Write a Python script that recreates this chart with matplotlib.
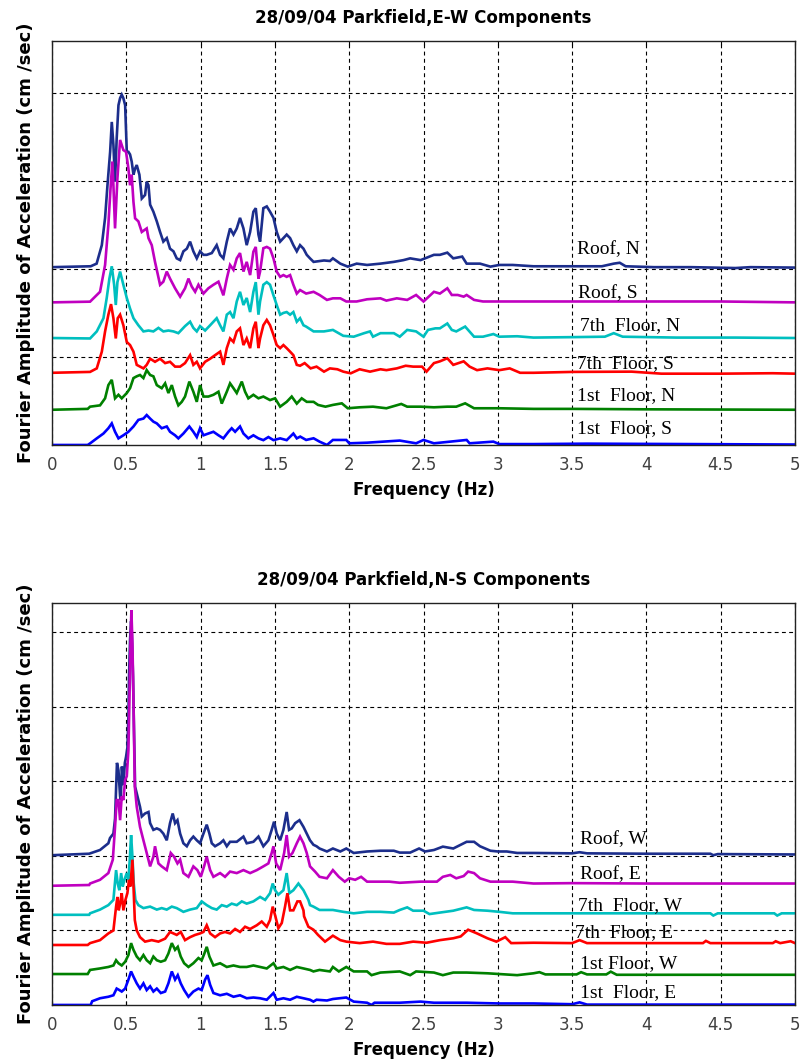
import matplotlib.pyplot as plt

# ---- E-W components (Fourier amplitude, stacked records) ----
ew_roof_n_f = [0, 0.26, 0.30, 0.335, 0.357, 0.373, 0.391, 0.402, 0.413, 0.424, 0.435, 0.447, 0.458, 0.469,
               0.480, 0.492, 0.503, 0.514, 0.525, 0.536, 0.548, 0.559, 0.570, 0.588, 0.604, 0.626, 0.637,
               0.649, 0.660, 0.682, 0.705, 0.727, 0.749, 0.772, 0.794, 0.817, 0.839, 0.862, 0.884, 0.907,
               0.929, 0.951, 0.974, 0.996, 1.019, 1.041, 1.075, 1.108, 1.131, 1.153, 1.176, 1.198, 1.221,
               1.243, 1.265, 1.288, 1.310, 1.333, 1.355, 1.371, 1.389, 1.400, 1.422, 1.445, 1.467, 1.490,
               1.512, 1.535, 1.557, 1.579, 1.602, 1.624, 1.647, 1.669, 1.692, 1.714, 1.736, 1.76, 1.83,
               1.87, 1.89, 1.94, 1.99, 2.05, 2.12, 2.21, 2.30, 2.365, 2.41, 2.48, 2.57, 2.61, 2.66, 2.70,
               2.76, 2.79, 2.88, 2.95, 3.01, 3.10, 3.24, 3.5, 3.7, 3.78, 3.82, 3.86, 4.05, 4.3, 4.6, 4.7, 5.0]
ew_roof_n_a = [0.2, 0.3, 0.6, 2.7, 5.8, 9.5, 13.3, 16.7, 14.1, 9.9, 14.8, 18.6, 19.4, 19.8,
               19.4, 18.6, 13.3, 13.3, 13.0, 12.2, 10.7, 11.4, 11.8, 10.7, 8.0, 8.4, 9.9,
               9.5, 7.3, 6.5, 5.4, 4.2, 3.1, 3.5, 2.3, 2.0, 1.2, 1.0, 2.0, 2.3,
               3.1, 2.0, 1.2, 2.0, 1.6, 1.6, 1.8, 2.7, 1.6, 1.2, 3.1, 4.6, 3.9,
               4.6, 5.8, 4.6, 2.7, 4.2, 6.5, 6.9, 3.9, 3.1, 6.9, 7.1, 6.5, 5.8,
               4.2, 3.1, 3.5, 3.9, 3.5, 2.7, 2.0, 2.7, 2.3, 1.6, 1.2, 0.8, 0.96,
               0.9, 1.2, 0.6, 0.26, 0.6, 0.45, 0.6, 0.8, 1.0, 1.2, 1.0, 1.6, 1.6, 1.85, 1.2,
               1.4, 0.6, 0.6, 0.26, 0.45, 0.45, 0.3, 0.3, 0.3, 0.6, 0.7, 0.3, 0.2, 0.2, 0.1, 0.2, 0.15]

ew_roof_s_f = [0, 0.256, 0.323, 0.357, 0.379, 0.395, 0.406, 0.413, 0.424, 0.440, 0.458, 0.480, 0.498,
               0.514, 0.525, 0.536, 0.548, 0.559, 0.581, 0.604, 0.637, 0.649, 0.671, 0.693, 0.727, 0.749,
               0.772, 0.794, 0.828, 0.862, 0.895, 0.918, 0.940, 0.963, 0.985, 1.019, 1.052, 1.086, 1.120,
               1.153, 1.176, 1.198, 1.221, 1.243, 1.265, 1.288, 1.310, 1.333, 1.355, 1.371, 1.389, 1.400,
               1.422, 1.445, 1.467, 1.490, 1.512, 1.535, 1.557, 1.579, 1.602, 1.624, 1.647, 1.669, 1.71,
               1.76, 1.80, 1.85, 1.89, 1.94, 1.98, 2.05, 2.12, 2.21, 2.25, 2.32, 2.39, 2.45, 2.50, 2.57,
               2.61, 2.66, 2.69, 2.73, 2.77, 2.79, 2.84, 2.90, 3.01, 3.13, 3.24, 3.5, 4.0, 4.5, 5.0]
ew_roof_s_a = [0.2, 0.28, 1.4, 4.45, 9.0, 13.5, 16.2, 13.5, 8.6, 14.3, 18.65, 17.5, 17.3,
               15.4, 13.5, 14.7, 11.6, 9.75, 9.4, 8.2, 8.6, 7.5, 6.7, 4.8, 2.2, 2.55,
               3.7, 2.9, 1.8, 0.85, 1.8, 2.9, 2.0, 1.4, 2.2, 1.2, 1.8, 2.2, 2.55,
               1.0, 2.9, 4.45, 3.9, 5.2, 5.8, 3.7, 4.8, 3.3, 5.96, 6.5, 2.9, 3.7,
               6.35, 6.5, 6.3, 5.2, 3.7, 3.1, 3.3, 3.1, 3.3, 2.2, 1.2, 1.6, 1.2,
               1.4, 1.04, 0.48, 0.66, 0.66, 0.3, 0.3, 0.55, 0.66, 0.4, 0.66, 0.48, 1.04, 0.3, 1.4,
               1.2, 1.8, 1.04, 1.04, 0.85, 1.04, 0.48, 0.3, 0.3, 0.3, 0.3, 0.3, 0.3, 0.3, 0.2]

ew_7th_n_f = [0, 0.256, 0.301, 0.346, 0.368, 0.386, 0.402, 0.418, 0.429, 0.440, 0.458, 0.480, 0.503,
              0.525, 0.548, 0.581, 0.615, 0.649, 0.682, 0.716, 0.749, 0.783, 0.817, 0.850, 0.895, 0.929,
              0.951, 0.974, 0.996, 1.030, 1.064, 1.108, 1.131, 1.153, 1.176, 1.198, 1.221, 1.243, 1.265,
              1.288, 1.310, 1.333, 1.355, 1.371, 1.389, 1.400, 1.422, 1.445, 1.467, 1.490, 1.512, 1.535,
              1.557, 1.579, 1.602, 1.624, 1.647, 1.669, 1.692, 1.71, 1.76, 1.83, 1.89, 1.96, 2.03, 2.10,
              2.14, 2.16, 2.21, 2.30, 2.34, 2.39, 2.45, 2.50, 2.53, 2.58, 2.61, 2.66, 2.69, 2.72, 2.78,
              2.84, 2.90, 2.97, 3.01, 3.13, 3.24, 3.5, 3.72, 3.78, 3.84, 4.2, 4.6, 5.0]
ew_7th_n_a = [0.15, 0.1, 0.9, 2.4, 4.7, 6.9, 8.3, 6.2, 3.9, 6.5, 7.7, 6.2, 4.7,
              3.5, 2.4, 1.6, 0.9, 1.0, 0.9, 1.3, 0.9, 1.0, 0.9, 0.7, 1.5, 2.0,
              1.3, 0.9, 1.5, 1.0, 1.6, 2.4, 1.6, 0.9, 2.8, 3.1, 2.4, 4.3, 5.4,
              3.9, 4.7, 3.1, 5.4, 6.5, 2.8, 4.3, 6.2, 6.5, 6.2, 5.0, 3.9, 2.8,
              3.0, 3.1, 2.8, 3.1, 2.0, 2.4, 1.6, 1.45, 0.9, 0.9, 1.07, 0.4, 0.3, 0.7,
              0.9, 0.3, 0.7, 0.7, 0.3, 1.07, 0.9, 0.3, 1.07, 1.25, 1.25, 1.8, 1.07, 0.9, 1.45,
              0.3, 0.3, 0.6, 0.3, 0.35, 0.2, 0.25, 0.3, 0.7, 0.3, 0.2, 0.2, 0.15]

ew_7th_s_f = [0, 0.256, 0.301, 0.335, 0.357, 0.379, 0.397, 0.413, 0.429, 0.442, 0.458, 0.480, 0.503,
              0.525, 0.548, 0.570, 0.615, 0.637, 0.660, 0.693, 0.727, 0.761, 0.794, 0.828, 0.862, 0.895,
              0.929, 0.951, 0.974, 0.996, 1.030, 1.064, 1.097, 1.131, 1.153, 1.176, 1.198, 1.221, 1.243,
              1.265, 1.288, 1.310, 1.333, 1.355, 1.371, 1.389, 1.400, 1.422, 1.445, 1.467, 1.490, 1.512,
              1.535, 1.557, 1.579, 1.602, 1.624, 1.647, 1.669, 1.70, 1.74, 1.78, 1.83, 1.87, 1.92, 1.96,
              2.01, 2.07, 2.14, 2.21, 2.25, 2.32, 2.38, 2.43, 2.49, 2.52, 2.57, 2.61, 2.66, 2.70, 2.77,
              2.81, 2.86, 2.93, 3.01, 3.08, 3.15, 3.24, 3.5, 3.9, 4.1, 4.5, 4.85, 5.0]
ew_7th_s_a = [0.2, 0.3, 0.7, 2.6, 4.9, 6.8, 8.0, 6.4, 4.1, 6.4, 6.8, 5.6, 3.7,
              3.35, 2.6, 1.1, 0.7, 1.1, 1.8, 1.45, 1.8, 1.3, 1.45, 0.9, 0.9, 1.3,
              2.2, 1.1, 1.45, 0.7, 1.45, 1.8, 2.2, 2.6, 1.1, 3.0, 4.1, 3.7, 4.9,
              5.25, 3.35, 4.1, 3.0, 5.25, 6.0, 3.0, 4.1, 5.6, 6.2, 5.6, 4.5, 3.35,
              3.0, 3.35, 3.0, 2.6, 2.2, 1.1, 1.0, 1.3, 0.7, 0.9, 0.33, 0.7, 0.6, 0.33,
              0.14, 0.6, 0.33, 0.6, 0.5, 0.7, 1.0, 0.9, 0.9, 0.33, 1.3, 1.5, 1.85, 1.1, 1.5,
              0.9, 0.5, 0.7, 0.5, 0.7, 0.2, 0.2, 0.3, 0.33, 0.1, 0.1, 0.15, 0.1]

ew_1st_n_f = [0, 0.24, 0.256, 0.323, 0.357, 0.379, 0.402, 0.424, 0.447, 0.469, 0.503, 0.525, 0.548,
              0.570, 0.592, 0.615, 0.637, 0.660, 0.682, 0.705, 0.738, 0.761, 0.783, 0.806, 0.828, 0.850,
              0.873, 0.895, 0.924, 0.951, 0.974, 0.996, 1.019, 1.052, 1.086, 1.120, 1.142, 1.176, 1.198,
              1.221, 1.243, 1.277, 1.299, 1.321, 1.355, 1.389, 1.422, 1.467, 1.501, 1.535, 1.579, 1.613,
              1.647, 1.680, 1.714, 1.76, 1.79, 1.84, 1.89, 1.95, 1.99, 2.07, 2.16, 2.25, 2.35, 2.39,
              2.48, 2.57, 2.66, 2.72, 2.78, 2.84, 3.01, 3.24, 3.5, 4.0, 5.0]
ew_1st_n_a = [0.0, 0.1, 0.35, 0.5, 1.3, 2.8, 3.4, 1.3, 1.7, 1.3, 1.9, 2.45, 3.6,
              3.8, 3.95, 3.6, 4.5, 3.95, 3.8, 2.8, 2.45, 3.0, 1.9, 2.8, 1.5, 0.5,
              0.9, 1.5, 3.2, 2.05, 0.9, 2.8, 1.5, 1.5, 1.7, 2.05, 0.7, 2.05, 3.0,
              2.45, 1.9, 3.2, 2.05, 1.3, 1.7, 1.3, 1.5, 1.1, 1.3, 0.35, 0.9, 1.5,
              0.7, 1.3, 0.9, 0.9, 0.55, 0.35, 0.55, 0.73, 0.17, 0.28, 0.35, 0.17, 0.66, 0.35,
              0.35, 0.28, 0.35, 0.35, 0.73, 0.17, 0.17, 0.1, 0.1, 0.05, 0.0]

ew_1st_s_f = [0, 0.24, 0.256, 0.301, 0.346, 0.379, 0.402, 0.424, 0.447, 0.480, 0.514, 0.548, 0.581,
              0.615, 0.637, 0.660, 0.682, 0.705, 0.738, 0.772, 0.794, 0.828, 0.850, 0.884, 0.924, 0.951,
              0.974, 0.996, 1.019, 1.052, 1.086, 1.120, 1.153, 1.187, 1.209, 1.232, 1.265, 1.288, 1.321,
              1.355, 1.389, 1.422, 1.456, 1.490, 1.535, 1.579, 1.624, 1.647, 1.67, 1.71, 1.76, 1.80,
              1.85, 1.89, 1.98, 2.00, 2.12, 2.34, 2.45, 2.50, 2.57, 2.79, 2.81, 2.97, 3.01, 3.24,
              3.6, 5.0]
ew_1st_s_a = [0.0, 0.0, 0.18, 0.75, 1.3, 1.9, 2.45, 1.5, 0.75, 1.1, 1.5, 2.1, 2.85,
              3.0, 3.4, 3.0, 2.65, 2.45, 1.9, 2.1, 1.5, 1.1, 0.75, 1.3, 2.1, 1.5,
              0.9, 1.9, 1.1, 1.3, 1.5, 1.1, 0.75, 1.5, 1.9, 1.5, 2.1, 1.3, 0.75,
              1.1, 0.75, 0.55, 0.9, 0.55, 0.75, 0.55, 1.3, 0.75, 0.95, 0.57, 0.76, 0.38,
              0.0, 0.57, 0.57, 0.19, 0.26, 0.5, 0.19, 0.57, 0.19, 0.57, 0.19, 0.38, 0.1, 0.1,
              0.15, 0.05]

# ---- N-S components ----
ns_roof_w_f = [0, 0.25, 0.323, 0.379, 0.39, 0.413, 0.424, 0.431, 0.437, 0.447, 0.458, 0.462, 0.470,
               0.480, 0.490, 0.498, 0.507, 0.514, 0.518, 0.525, 0.532, 0.537, 0.545, 0.552, 0.559, 0.570,
               0.581, 0.592, 0.604, 0.626, 0.649, 0.660, 0.682, 0.705, 0.727, 0.749, 0.772, 0.794, 0.812,
               0.828, 0.844, 0.862, 0.884, 0.907, 0.929, 0.951, 0.974, 0.996, 1.019, 1.041, 1.059, 1.075,
               1.097, 1.131, 1.153, 1.176, 1.198, 1.243, 1.288, 1.310, 1.355, 1.389, 1.422, 1.456, 1.478,
               1.494, 1.512, 1.535, 1.557, 1.579, 1.595, 1.613, 1.636, 1.665, 1.692, 1.714, 1.736, 1.759,
               1.78, 1.80, 1.85, 1.89, 1.94, 1.98, 2.03, 2.12, 2.21, 2.30, 2.34, 2.41, 2.47, 2.51, 2.57,
               2.63, 2.70, 2.75, 2.79, 2.84, 2.88, 2.95, 3.00, 3.06, 3.13, 3.24, 3.5, 3.55, 3.6, 4.0,
               4.43, 4.45, 4.48, 5.0]
ns_roof_w_a = [0.1, 0.3, 0.8, 1.7, 2.4, 3.0, 5.0, 9.0, 12.5, 11.5, 8.0, 7.5, 12.0,
               9.5, 12.5, 13.3, 14.5, 18.7, 24.0, 29.0, 31.5, 29.9, 24.1, 16.5, 9.3, 8.4,
               7.5, 6.6, 5.3, 5.7, 5.9, 4.4, 3.5, 3.7, 3.5, 3.0, 2.1, 4.4, 5.7,
               4.4, 4.8, 3.0, 1.7, 1.3, 2.1, 2.6, 2.1, 1.7, 3.0, 4.2, 3.0, 1.7,
               1.3, 1.7, 2.1, 1.3, 1.9, 1.9, 2.6, 1.7, 1.9, 2.6, 1.3, 2.1, 3.5,
               4.6, 3.0, 2.1, 3.5, 5.9, 3.5, 3.7, 4.4, 4.8, 3.9, 3.0, 2.1, 1.5,
               1.3, 1.0, 0.6, 1.0, 0.6, 1.0, 0.4, 0.6, 0.7, 0.7, 0.45, 0.45, 1.0, 0.6, 0.8,
               1.25, 1.0, 1.5, 1.9, 1.9, 1.3, 0.7, 0.6, 0.6, 0.4, 0.4, 0.35, 0.5, 0.35, 0.3,
               0.3, 0.1, 0.25, 0.2]

ns_roof_e_f = [0, 0.25, 0.256, 0.323, 0.379, 0.409, 0.424, 0.435, 0.447, 0.458, 0.469, 0.480, 0.492,
               0.503, 0.514, 0.521, 0.527, 0.534, 0.541, 0.548, 0.557, 0.570, 0.592, 0.615, 0.637, 0.660,
               0.682, 0.693, 0.716, 0.738, 0.772, 0.799, 0.821, 0.844, 0.862, 0.884, 0.918, 0.951, 0.978,
               1.001, 1.023, 1.041, 1.064, 1.086, 1.131, 1.164, 1.198, 1.243, 1.288, 1.333, 1.378, 1.422,
               1.456, 1.478, 1.490, 1.508, 1.535, 1.562, 1.579, 1.595, 1.618, 1.647, 1.669, 1.692, 1.714,
               1.736, 1.77, 1.80, 1.85, 1.89, 1.93, 1.97, 2.00, 2.04, 2.08, 2.12, 2.18, 2.27, 2.34, 2.48,
               2.59, 2.63, 2.68, 2.72, 2.77, 2.80, 2.84, 2.88, 2.95, 3.10, 3.24, 3.5, 4.0, 4.5, 5.0]
ns_roof_e_a = [0.0, 0.1, 0.3, 0.8, 1.7, 3.5, 7.9, 11.5, 11.5, 8.8, 12.0, 11.5, 14.2,
               14.7, 18.2, 24.9, 31.7, 37.0, 32.5, 24.9, 13.3, 10.6, 7.9, 6.1, 4.4, 2.6,
               3.9, 5.3, 3.0, 2.6, 2.1, 4.4, 3.9, 3.0, 3.5, 1.7, 1.2, 2.6, 2.1,
               1.2, 2.6, 3.9, 2.1, 1.2, 1.7, 1.2, 1.9, 1.7, 2.1, 1.7, 2.1, 2.6,
               3.0, 4.4, 5.3, 3.0, 2.1, 4.4, 6.8, 3.9, 4.4, 5.7, 6.6, 5.7, 4.4,
               2.6, 1.9, 1.2, 1.0, 2.1, 1.2, 0.55, 1.0, 0.8, 1.2, 0.55, 0.55, 0.55, 0.4, 0.55,
               0.55, 1.2, 1.45, 1.0, 1.3, 1.9, 1.7, 1.0, 0.55, 0.55, 0.3, 0.35, 0.3, 0.3, 0.3]

ns_7th_w_f = [0, 0.25, 0.256, 0.323, 0.379, 0.413, 0.431, 0.442, 0.453, 0.465, 0.476, 0.487, 0.503,
              0.514, 0.523, 0.532, 0.541, 0.550, 0.561, 0.581, 0.615, 0.660, 0.705, 0.738, 0.772, 0.806,
              0.839, 0.884, 0.929, 0.974, 1.007, 1.041, 1.075, 1.108, 1.142, 1.176, 1.209, 1.243, 1.277,
              1.310, 1.355, 1.400, 1.434, 1.467, 1.485, 1.501, 1.523, 1.557, 1.579, 1.597, 1.624, 1.658,
              1.692, 1.725, 1.736, 1.759, 1.80, 1.89, 1.96, 2.03, 2.12, 2.21, 2.30, 2.34, 2.39, 2.43,
              2.50, 2.54, 2.61, 2.70, 2.79, 2.84, 2.93, 3.01, 3.10, 3.24, 3.5, 4.0, 4.43, 4.45, 4.48,
              4.86, 4.88, 4.91, 5.0]
ns_7th_w_a = [0.1, 0.1, 0.3, 0.8, 1.4, 2.1, 6.1, 4.3, 3.4, 5.7, 3.9, 4.8, 5.7,
              4.8, 7.5, 10.8, 7.9, 4.3, 2.1, 1.4, 1.0, 1.2, 0.8, 1.0, 0.8, 1.2,
              1.0, 0.5, 0.8, 1.0, 1.9, 1.4, 1.0, 0.8, 1.4, 1.2, 1.6, 1.4, 1.9,
              1.6, 1.9, 2.5, 2.1, 3.0, 4.3, 3.4, 2.8, 3.4, 5.7, 3.0, 3.4, 4.3,
              3.4, 2.1, 1.4, 1.2, 0.75, 0.75, 0.5, 0.3, 0.5, 0.5, 0.4, 0.75, 1.1, 0.65,
              0.65, 0.2, 0.4, 0.65, 1.1, 0.75, 0.65, 0.5, 0.3, 0.3, 0.3, 0.3, 0.3, 0.0, 0.3,
              0.3, 0.0, 0.3, 0.3]

ns_7th_e_f = [0, 0.24, 0.256, 0.323, 0.379, 0.413, 0.431, 0.440, 0.449, 0.458, 0.469, 0.480, 0.494,
              0.507, 0.518, 0.527, 0.541, 0.550, 0.557, 0.570, 0.592, 0.626, 0.671, 0.716, 0.761, 0.794,
              0.817, 0.839, 0.866, 0.895, 0.929, 0.963, 0.996, 1.019, 1.041, 1.064, 1.097, 1.131, 1.164,
              1.198, 1.232, 1.265, 1.299, 1.333, 1.378, 1.411, 1.445, 1.467, 1.485, 1.503, 1.523, 1.546,
              1.568, 1.584, 1.602, 1.624, 1.651, 1.669, 1.692, 1.696, 1.725, 1.759, 1.79, 1.837, 1.89,
              1.94, 1.98, 2.07, 2.16, 2.25, 2.34, 2.43, 2.52, 2.61, 2.70, 2.75, 2.80, 2.86, 2.93, 2.99,
              3.05, 3.09, 3.24, 3.5, 3.55, 3.6, 4.38, 4.4, 4.43, 4.85, 4.87, 4.9, 4.97, 5.0]
ns_7th_e_a = [0.05, 0.05, 0.3, 0.7, 1.6, 2.0, 5.2, 6.5, 4.7, 5.6, 7.0, 4.7, 6.1,
              7.0, 8.8, 7.9, 11.5, 7.0, 3.4, 2.0, 1.1, 0.5, 0.7, 0.5, 0.9, 1.8,
              1.6, 1.4, 1.8, 0.7, 1.1, 1.4, 1.6, 1.8, 2.7, 1.6, 1.1, 1.6, 1.8,
              1.6, 2.2, 1.8, 2.5, 2.2, 2.7, 3.2, 2.5, 3.4, 5.2, 3.9, 2.3, 3.0,
              5.2, 7.0, 4.7, 4.7, 5.9, 5.9, 4.7, 3.9, 2.5, 2.1, 1.4, 0.5, 1.3,
              0.7, 0.5, 0.3, 0.5, 0.2, 0.2, 0.5, 0.35, 0.7, 0.95, 1.2, 2.1, 1.6, 0.95, 0.5,
              1.1, 0.3, 0.35, 0.3, 0.7, 0.3, 0.3, 0.6, 0.3, 0.3, 0.55, 0.3, 0.55, 0.3]

ns_1st_w_f = [0, 0.24, 0.256, 0.323, 0.379, 0.413, 0.431, 0.447, 0.469, 0.492, 0.514, 0.532, 0.548,
              0.570, 0.592, 0.615, 0.637, 0.660, 0.682, 0.705, 0.732, 0.761, 0.783, 0.806, 0.828, 0.846,
              0.866, 0.889, 0.918, 0.951, 0.985, 1.007, 1.025, 1.041, 1.059, 1.086, 1.131, 1.176, 1.221,
              1.265, 1.310, 1.355, 1.400, 1.445, 1.490, 1.512, 1.557, 1.602, 1.647, 1.692, 1.736, 1.759,
              1.80, 1.87, 1.89, 1.93, 1.98, 2.03, 2.12, 2.15, 2.21, 2.34, 2.41, 2.45, 2.57, 2.63, 2.70,
              2.79, 2.93, 3.01, 3.13, 3.24, 3.28, 3.32, 3.53, 3.56, 3.6, 3.73, 3.76, 3.8, 5.0]
ns_1st_w_a = [0.15, 0.15, 0.7, 0.9, 1.1, 1.3, 2.0, 1.6, 1.3, 1.8, 2.7, 4.3, 3.4,
              2.5, 2.0, 2.7, 2.0, 1.6, 2.5, 2.0, 1.8, 2.0, 2.9, 4.3, 3.4, 3.8,
              2.5, 1.6, 1.1, 1.6, 2.3, 2.0, 2.9, 3.8, 2.5, 1.3, 1.6, 1.1, 1.3,
              1.1, 1.1, 1.3, 1.1, 0.9, 1.6, 0.9, 1.1, 0.7, 1.1, 0.9, 0.7, 0.5,
              0.7, 0.5, 1.1, 0.5, 1.1, 0.5, 0.5, 0.0, 0.35, 0.5, 0.0, 0.5, 0.35, 0.0, 0.35,
              0.35, 0.25, 0.15, 0.0, 0.25, 0.4, 0.1, 0.1, 0.4, 0.1, 0.1, 0.47, 0.05, 0.05]

ns_1st_e_f = [0, 0.26, 0.27, 0.323, 0.379, 0.413, 0.435, 0.453, 0.469, 0.492, 0.514, 0.532, 0.548,
              0.570, 0.592, 0.615, 0.637, 0.660, 0.682, 0.705, 0.732, 0.761, 0.783, 0.806, 0.828, 0.846,
              0.866, 0.889, 0.918, 0.951, 0.985, 1.007, 1.030, 1.046, 1.064, 1.086, 1.131, 1.176, 1.221,
              1.265, 1.310, 1.355, 1.400, 1.445, 1.490, 1.512, 1.557, 1.602, 1.647, 1.692, 1.736, 1.759,
              1.78, 1.85, 1.89, 1.98, 2.03, 2.12, 2.15, 2.17, 2.34, 2.48, 2.57, 2.79, 3.01, 3.24, 3.5,
              3.55, 3.6, 5.0]
ns_1st_e_a = [0.0, 0.0, 0.5, 0.9, 1.1, 1.3, 2.2, 2.0, 1.8, 2.2, 3.4, 4.5, 3.8,
              2.9, 2.2, 2.9, 2.0, 2.5, 1.8, 2.2, 1.6, 1.8, 2.9, 4.5, 3.4, 4.0,
              2.9, 2.0, 1.1, 1.8, 2.2, 2.0, 3.4, 4.0, 2.7, 1.6, 1.3, 1.5, 1.1,
              1.3, 0.9, 1.0, 0.9, 0.7, 1.6, 0.7, 0.9, 0.7, 1.1, 0.9, 0.7, 0.45,
              0.7, 0.6, 0.8, 1.0, 0.45, 0.3, 0.0, 0.3, 0.3, 0.45, 0.3, 0.3, 0.2, 0.2, 0.1,
              0.35, 0.05, 0.05]

offsets = [20, 16, 12, 8, 4, 0]
colors = ["#1c2e8c", "#c000c0", "#00bfbf", "#ff0000", "#008000", "#0000ff"]
freq_ticks = [0, 0.5, 1, 1.5, 2, 2.5, 3, 3.5, 4, 4.5, 5]
freq_labels = ["0", "0.5", "1", "1.5", "2", "2.5", "3", "3.5", "4", "4.5", "5"]

ew_curves = [(ew_roof_n_f, ew_roof_n_a), (ew_roof_s_f, ew_roof_s_a), (ew_7th_n_f, ew_7th_n_a),
             (ew_7th_s_f, ew_7th_s_a), (ew_1st_n_f, ew_1st_n_a), (ew_1st_s_f, ew_1st_s_a)]
ew_names = ["Roof, N", "Roof, S", "7th  Floor, N", "7th  Floor, S", "1st  Floor, N", "1st  Floor, S"]
ns_curves = [(ns_roof_w_f, ns_roof_w_a), (ns_roof_e_f, ns_roof_e_a), (ns_7th_w_f, ns_7th_w_a),
             (ns_7th_e_f, ns_7th_e_a), (ns_1st_w_f, ns_1st_w_a), (ns_1st_e_f, ns_1st_e_a)]
ns_names = ["Roof, W", "Roof, E", "7th  Floor, W", "7th  Floor, E", "1st Floor, W", "1st  Floor, E"]

SANS = "DejaVu Sans"
SERIF = "Liberation Serif"


def draw_panel(ax, curves, names, name_x, name_y, title, ytop, ygrid):
    for (f, a), off, c in zip(curves, offsets, colors):
        ax.plot(f, [v + off for v in a], color=c, lw=1.9, solid_joinstyle="miter")
    for name, x, y in zip(names, name_x, name_y):
        ax.text(x, y, name, family=SERIF, fontsize=14, va="center", ha="left", color="black")

    ax.set_xlim(0, 5)
    ax.set_ylim(0, ytop)
    ax.set_xticks(freq_ticks)
    ax.set_xticklabels(freq_labels, family=SANS, fontsize=12, color="#404040")
    ax.set_yticks(ygrid)
    ax.set_yticklabels([])
    ax.tick_params(axis="x", direction="in", length=3, top=True, pad=8)
    ax.tick_params(axis="y", length=0, pad=0)
    ax.grid(True, color="black", lw=0.8, ls=(0, (3.5, 3)))
    for s in ax.spines.values():
        s.set_linewidth(1.0)
        s.set_color("#222222")

    ax.set_title(title, family=SANS, fontsize=12, fontweight="bold", pad=13)
    ax.set_xlabel("Frequency (Hz)", family=SANS, fontsize=12, fontweight="bold", labelpad=5)
    ax.set_ylabel("Fourier Amplitude of Acceleration (cm /sec)", family=SANS, fontsize=13,
                  fontweight="bold", labelpad=12)


fig = plt.figure(figsize=(8.03, 10.63), dpi=100)

# upper panel: E-W
ax1 = fig.add_axes([0.0648, 0.5814, 0.9253, 0.3801])
draw_panel(ax1, ew_curves, ew_names,
           [3.53, 3.54, 3.55, 3.53, 3.53, 3.53],
           [22.2, 17.2, 13.55, 9.2, 5.6, 1.9],
           "28/09/04 Parkfield,E-W Components", 45.9, [10, 20, 30, 40])

# lower panel: N-S
ax2 = fig.add_axes([0.0648, 0.0546, 0.9253, 0.3782])
draw_panel(ax2, ns_curves, ns_names,
           [3.55, 3.55, 3.54, 3.52, 3.55, 3.55],
           [22.2, 17.45, 13.4, 9.75, 5.5, 1.65],
           "28/09/04 Parkfield,N-S Components", 53.96, [10, 20, 30, 40, 50])

fig.savefig("out.png", dpi=100)
